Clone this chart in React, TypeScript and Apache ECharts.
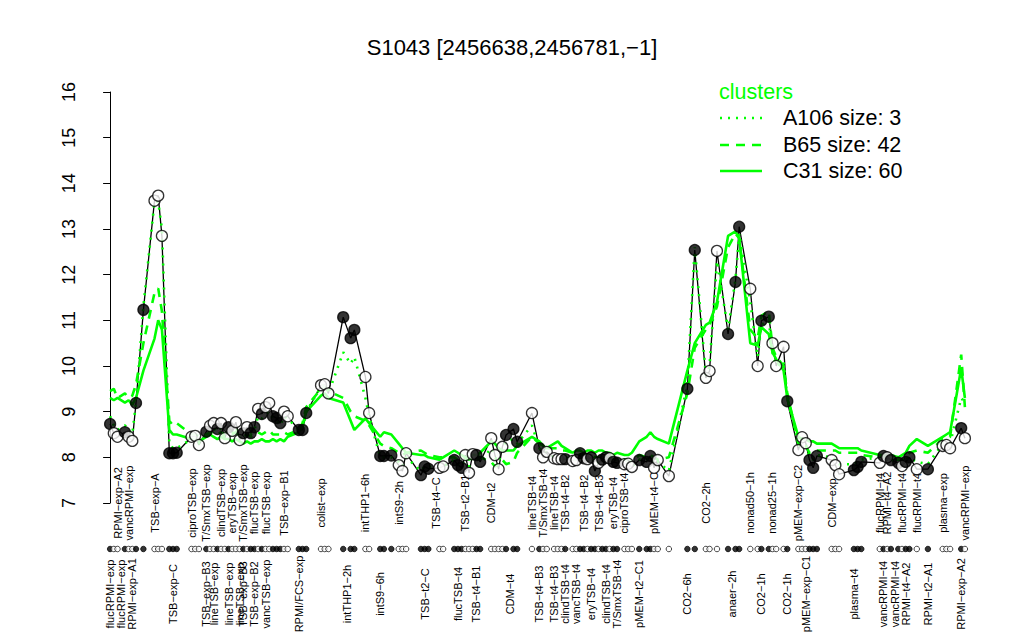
import React, { useEffect, useRef } from "react";
import * as echarts from "echarts";

const titleText = "S1043 [2456638,2456781,\u22121]";
const yTicks = [7, 8, 9, 10, 11, 12, 13, 14, 15, 16];

// sample order position (slot) along the x axis, with gaps between condition groups
const sampleSlot = [
  0, 1, 2, 4, 5, 6, 7, 9, 12, 13, 14, 16, 17, 18, 22, 23, 24,
  26, 27, 28, 29, 30, 31, 32, 33, 34, 35, 36, 37, 38, 39, 40, 41, 42, 43, 44, 45, 46, 47, 48,
  51, 52, 53, 57, 58, 59, 63, 65, 66, 69, 70, 73, 74, 76, 78, 79, 80, 84, 85, 86, 89, 90,
  93, 94, 95, 96, 97, 98, 99, 100, 103, 104, 105, 106, 107, 109, 110, 114,
  116, 117, 118, 120, 121, 122, 123, 125, 126, 127, 128, 129, 130, 131, 132, 133, 134, 135, 136, 137, 139, 140, 141,
  143, 145, 146, 147, 148, 151, 156, 158, 161, 162, 164, 167, 169, 170, 173, 175, 176, 178, 179, 180, 182, 183,
  186, 187, 188, 189, 190, 191, 195, 196, 197, 201, 202, 203, 208, 209, 210, 211, 213, 214, 215, 216, 218, 221,
  225, 226, 227, 230, 231,
];

const profile = [
  8.73, 8.53, 8.45, 8.55, 8.45, 8.36, 9.19, 11.23, 13.62, 13.73, 12.85, 8.09, 8.09, 8.1, 8.45, 8.47, 8.27,
  8.56, 8.69, 8.75, 8.62, 8.75, 8.42, 8.66, 8.58, 8.77, 8.38, 8.53, 8.66, 8.53, 8.66, 9.06, 8.95, 9.1, 9.19, 8.9, 8.86, 8.75, 9.0, 8.9,
  8.6, 8.6, 8.97, 9.58, 9.6, 9.4, 11.07, 10.61, 10.79, 9.76, 8.97, 8.03, 8.03, 8.04, 7.83, 7.7, 8.09, 7.61, 7.8, 7.75, 7.77, 7.8,
  7.94, 7.83, 7.77, 8.05, 7.66, 8.07, 8.05, 7.9, 8.42, 8.05, 7.74, 8.23, 8.49, 8.62, 8.34, 8.97,
  8.2, 8.0, 8.12, 7.98, 7.96, 7.96, 7.96, 7.92, 7.94, 8.09, 7.98, 7.96, 8.0, 7.7, 7.88, 7.95, 8.0, 7.98, 7.9, 7.88, 7.85, 7.86, 7.79,
  7.94, 7.9, 8.03, 7.77, 7.94, 7.59, 9.5, 12.54, 9.74, 9.89, 12.52, 10.7, 11.84, 13.05, 11.69, 10.0, 10.99, 11.08, 10.5, 10.0, 10.42, 9.23,
  8.16, 8.44, 8.31, 7.94, 7.77, 8.03, 7.94, 7.83, 7.63, 7.72, 7.79, 7.9, 7.88, 8.03, 8.0, 7.94, 7.88, 7.81, 7.9, 8.0, 7.74, 7.74,
  8.25, 8.27, 8.2, 8.64, 8.42,
];

// 1 = filled point, 0 = open point
const filled = [
  1, 0, 0, 1, 0, 0, 1, 1, 0, 0, 0, 1, 1, 1, 0, 0, 0,
  1, 0, 0, 1, 0, 0, 1, 0, 0, 0, 1, 0, 1, 1, 0, 1, 0, 0, 1, 1, 1, 0, 0,
  1, 1, 1, 0, 0, 0, 1, 1, 1, 0, 0, 1, 1, 1, 0, 0, 0, 1, 1, 1, 0, 0,
  1, 1, 1, 0, 0, 0, 1, 1, 0, 0, 0, 0, 1, 1, 1, 0,
  1, 0, 0, 0, 0, 0, 1, 0, 0, 1, 1, 0, 1, 1, 0, 1, 1, 0, 1, 1, 0, 0, 0,
  1, 1, 1, 0, 0, 0, 1, 1, 0, 0, 0, 1, 1, 1, 0, 0, 1, 1, 0, 0, 0, 1,
  0, 0, 0, 1, 1, 1, 0, 0, 0, 1, 1, 1, 0, 1, 0, 1, 1, 0, 1, 1, 0, 1,
  0, 0, 0, 1, 0,
];

// cluster mean profiles
const clusterA = [
  8.9, 8.7, 8.6, 8.7, 8.6, 8.5, 9.2, 11.3, 13.6, 13.6, 13.0, 8.3, 8.2, 8.2, 8.4, 8.4, 8.3,
  8.5, 8.6, 8.65, 8.55, 8.65, 8.45, 8.6, 8.55, 8.65, 8.45, 8.5, 8.6, 8.5, 8.6, 8.9, 8.85, 8.95, 9.0, 8.85, 8.8, 8.7, 8.9, 8.85,
  8.6, 8.6, 9.0, 9.55, 9.6, 9.4, 10.3, 10.05, 10.2, 9.3, 8.9, 8.0, 8.0, 8.0, 7.9, 7.8, 8.0, 7.7, 7.8, 7.8, 7.8, 7.8,
  7.95, 7.85, 7.8, 8.0, 7.8, 8.0, 8.0, 7.9, 8.2, 8.0, 7.9, 8.15, 8.35, 8.4, 8.3, 8.7,
  8.2, 8.1, 8.1, 8.0, 7.95, 7.95, 8.0, 7.95, 7.95, 8.05, 8.0, 7.95, 8.0, 7.85, 7.9, 7.95, 8.0, 7.95, 7.9, 7.9, 7.85, 7.85, 7.8,
  7.95, 7.95, 8.0, 7.85, 7.9, 7.7, 9.6, 12.6, 9.8, 10.0, 12.3, 10.8, 11.9, 12.9, 11.4, 10.2, 10.9, 11.0, 10.3, 10.0, 10.1, 9.3,
  8.3, 8.4, 8.3, 8.0, 7.95, 8.05, 8.0, 7.95, 7.85, 7.85, 7.9, 7.95, 8.0, 8.05, 8.0, 7.95, 7.9, 7.9, 7.95, 8.0, 7.9, 7.85,
  8.3, 8.3, 8.3, 9.3, 9.2,
];

const clusterB = [
  9.45, 9.5, 9.3, 9.4, 9.3, 9.35, 9.6, 10.5, 11.6, 11.7, 11.2, 8.8, 8.7, 8.75, 8.5, 8.5, 8.45,
  8.5, 8.55, 8.55, 8.5, 8.55, 8.45, 8.5, 8.5, 8.55, 8.45, 8.45, 8.5, 8.45, 8.5, 8.55, 8.5, 8.55, 8.6, 8.5, 8.5, 8.5, 8.55, 8.5,
  8.6, 8.75, 9.1, 9.5, 9.55, 9.45, 9.3, 9.0, 8.9, 8.8, 8.7, 8.3, 8.25, 8.2, 8.1, 8.05, 8.1, 8.15, 8.1, 8.05, 8.0, 8.0,
  8.0, 7.95, 7.95, 8.0, 7.95, 8.0, 8.05, 8.0, 7.9, 7.8, 7.85, 7.95, 7.85, 7.9, 8.1, 8.45,
  8.3, 8.25, 8.2, 8.2, 8.2, 8.15, 8.15, 8.1, 8.1, 8.05, 8.05, 8.05, 8.05, 8.0, 8.0, 8.05, 8.0, 8.0, 7.95, 7.95, 7.95, 7.9, 7.9,
  8.05, 8.0, 8.05, 8.0, 7.95, 8.0, 9.4, 10.4, 10.8, 10.9, 11.3, 12.6, 12.9, 12.8, 10.8, 10.6, 11.1, 11.2, 10.4, 10.2, 10.0, 9.4,
  8.3, 8.2, 8.25, 8.1, 8.1, 8.15, 8.15, 8.15, 8.1, 8.1, 8.1, 8.05, 8.0, 8.0, 7.95, 7.95, 7.95, 7.95, 8.0, 8.1, 8.15, 8.1,
  8.4, 8.4, 8.45, 10.25, 9.1,
];

const clusterC = [
  9.3, 9.25, 9.3, 9.2, 9.25, 9.15, 9.3, 9.9, 10.6, 11.0, 10.8, 8.6, 8.5, 8.5, 8.4, 8.4, 8.35,
  8.45, 8.5, 8.45, 8.4, 8.45, 8.4, 8.4, 8.35, 8.4, 8.35, 8.3, 8.35, 8.3, 8.35, 8.35, 8.4, 8.35, 8.35, 8.4, 8.35, 8.4, 8.35, 8.45,
  8.55, 8.7, 9.0, 9.35, 9.4, 9.3, 9.2, 8.8, 8.6, 8.85, 8.75, 8.45, 8.55, 8.5, 8.3, 8.2, 8.1, 8.05, 8.05, 8.0, 7.95, 8.0,
  8.15, 8.1, 8.05, 8.0, 8.0, 8.05, 8.05, 8.1, 8.35, 8.3, 8.2, 8.15, 8.15, 8.15, 8.25, 8.45,
  8.35, 8.25, 8.2, 8.3, 8.35, 8.25, 8.2, 8.1, 8.15, 8.15, 8.1, 8.15, 8.15, 8.1, 8.15, 8.15, 8.1, 8.1, 8.05, 8.1, 8.05, 8.05, 8.1,
  8.35, 8.45, 8.55, 8.45, 8.4, 8.3, 9.9, 10.5, 10.9, 10.95, 11.4, 12.85, 12.95, 12.8, 10.5, 10.45, 10.85, 10.7, 10.3, 10.15, 9.9, 9.3,
  8.45, 8.4, 8.4, 8.35, 8.35, 8.3, 8.3, 8.25, 8.2, 8.2, 8.2, 8.15, 8.05, 8.05, 8.05, 8.05, 8.0, 8.05, 8.1, 8.25, 8.4, 8.25,
  8.45, 8.5, 8.55, 9.95, 9.3,
];

const topLabels = [
  "RPMI\u2212exp\u2212A2", "vancRPMI\u2212exp", "TSB\u2212exp\u2212A", "ciproTSB\u2212exp", "T/SmxTSB\u2212exp",
  "clindTSB\u2212exp", "eryTSB\u2212exp", "T/SmxTSB\u2212exp", "flucTSB\u2212exp", "flucTSB\u2212exp", "TSB\u2212exp\u2212B1",
  "colist\u2212exp", "intTHP1\u22126h", "intS9\u22122h", "TSB\u2212t4\u2212C", "TSB\u2212t2\u2212B1", "CDM\u2212t2",
  "lineTSB\u2212t4", "T/SmxTSB\u2212t4", "lineTSB\u2212t4", "TSB\u2212t4\u2212B2", "TSB\u2212t4\u2212B2", "TSB\u2212t4\u2212B3",
  "eryTSB\u2212t4", "ciproTSB\u2212t4", "pMEM\u2212t4\u2212C", "CO2\u22122h", "nonad50\u22121h", "nonad25\u22121h",
  "pMEM\u2212exp\u2212C2", "CDM\u2212exp", "flucRPMI\u2212t4", "RPMI\u2212t4\u2212A2", "flucRPMI\u2212t4", "flucRPMI\u2212t4",
  "plasma\u2212exp", "vancRPMI\u2212exp",
];
const topLabelSlot = [
  2, 5, 12, 22, 26, 30, 33, 36, 39, 42, 47, 57, 69, 78, 88, 96, 103, 114, 117, 120, 123, 128, 132, 136, 139,
  147, 161, 173, 179, 186, 195, 208, 210, 214, 218, 225, 231,
];

const bottomLabels = [
  "flucRPMI\u2212exp", "flucRPMI\u2212exp", "RPMI\u2212exp\u2212A1", "TSB\u2212exp\u2212C", "TSB\u2212exp\u2212B3",
  "lineTSB\u2212exp", "lineTSB\u2212exp", "lineTSB\u2212exp", "TSB\u2212exp\u2212B3", "TSB\u2212exp\u2212B2", "vancTSB\u2212exp",
  "RPMI/FCS\u2212exp", "intTHP1\u22122h", "intS9\u22126h", "TSB\u2212t2\u2212C", "flucTSB\u2212t4", "TSB\u2212t4\u2212B1",
  "CDM\u2212t4", "TSB\u2212t4\u2212B3", "TSB\u2212t4\u2212B3", "clindTSB\u2212t4", "vancTSB\u2212t4", "eryTSB\u2212t4",
  "clindTSB\u2212t4", "T/SmxTSB\u2212t4", "pMEM\u2212t2\u2212C1", "CO2\u22126h", "anaer\u22122h", "CO2\u22121h", "CO2\u22121h",
  "pMEM\u2212exp\u2212C1", "plasma\u2212t4", "vancRPMI\u2212t4", "vancRPMI\u2212t4", "RPMI\u2212t4\u2212A2", "RPMI\u2212t2\u2212A1",
  "RPMI\u2212exp\u2212A2",
];
const bottomLabelSlot = [
  0, 3, 6, 17, 26, 28, 32, 35, 36, 39, 42, 51, 64, 73, 85, 94, 99, 108, 116, 120, 123, 126, 130, 134, 137,
  143, 156, 168, 176, 183, 188, 201, 209, 212, 215, 221, 230,
];

const legendTitle = "clusters";
const legendNames = ["A106 size: 3", "B65 size: 42", "C31 size: 60"];

export default function App() {
  const ref = useRef<HTMLDivElement>(null);

  useEffect(() => {
    document.body.style.margin = "0";
    const chart = echarts.init(ref.current as HTMLDivElement, null, { renderer: "svg" });
    const GREEN = "#00ff00";
    const FONT = '"Liberation Sans", Arial, Helvetica, sans-serif';
    const xMin = -3;
    const xMax = 234;
    const gridLeft = 99;
    const gridRight = 48;

    const pts = sampleSlot.map((s, i) => ({
      value: [s, profile[i]],
      itemStyle: {
        color: filled[i] ? "#000000" : "#ffffff",
        borderColor: "#000000",
        borderWidth: 1.3,
      },
    }));
    const strip = sampleSlot.map((s, i) => ({
      value: [s, 0.5],
      itemStyle: {
        color: filled[i] ? "#000000" : "#ffffff",
        borderColor: "#000000",
        borderWidth: 0.9,
      },
    }));
    const lineData = (arr: number[]) => sampleSlot.map((s, i) => [s, arr[i]]);

    chart.setOption({
      animation: false,
      backgroundColor: "#ffffff",
      grid: [
        { left: gridLeft, right: gridRight, top: 92, bottom: 137 },
        { left: gridLeft, right: gridRight, top: 544, height: 10 },
      ],
      xAxis: [
        { type: "value", min: xMin, max: xMax, show: false },
        { type: "value", gridIndex: 1, min: xMin, max: xMax, show: false },
      ],
      yAxis: [
        {
          type: "value",
          min: 7,
          max: 16,
          interval: 1,
          offset: 9,
          axisLine: { show: true, lineStyle: { color: "#000000", width: 1 } },
          axisTick: { show: true, length: 7, lineStyle: { color: "#000000", width: 1 } },
          axisLabel: { show: false },
          splitLine: { show: false },
        },
        { type: "value", gridIndex: 1, min: 0, max: 1, show: false },
      ],
      series: [
        {
          type: "line",
          data: lineData(profile),
          symbol: "none",
          lineStyle: { color: "#000000", width: 1.3 },
          z: 2,
        },
        {
          type: "line",
          data: lineData(clusterA),
          symbol: "none",
          lineStyle: { color: GREEN, width: 2.6, type: [2, 6] },
          z: 3,
        },
        {
          type: "line",
          data: lineData(clusterB),
          symbol: "none",
          lineStyle: { color: GREEN, width: 2.6, type: [9, 7] },
          z: 3,
        },
        {
          type: "line",
          data: lineData(clusterC),
          symbol: "none",
          lineStyle: { color: GREEN, width: 2.6 },
          z: 3,
        },
        {
          type: "scatter",
          data: pts,
          symbol: "circle",
          symbolSize: 11,
          z: 5,
        },
        {
          type: "scatter",
          xAxisIndex: 1,
          yAxisIndex: 1,
          data: strip,
          symbol: "circle",
          symbolSize: 5.5,
          z: 5,
        },
      ],
    });

    const graphics: any[] = [];
    graphics.push({
      type: "text",
      x: 512,
      y: 47,
      style: { text: titleText, fontSize: 22, fontFamily: FONT, fill: "#000", align: "center", verticalAlign: "middle" },
    });
    yTicks.forEach((t) => {
      const py = chart.convertToPixel({ yAxisIndex: 0 }, t) as number;
      graphics.push({
        type: "text",
        x: 69,
        y: py,
        rotation: Math.PI / 2,
        style: { text: String(t), fontSize: 18, fontFamily: FONT, fill: "#000", align: "center", verticalAlign: "middle" },
      });
    });
    topLabels.forEach((lab, i) => {
      const px = chart.convertToPixel({ xAxisIndex: 0 }, topLabelSlot[i]) as number;
      graphics.push({
        type: "text",
        x: px,
        y: 503,
        rotation: Math.PI / 2,
        style: { text: lab, fontSize: 11, fontFamily: FONT, fill: "#000", align: "center", verticalAlign: "middle" },
      });
    });
    bottomLabels.forEach((lab, i) => {
      const px = chart.convertToPixel({ xAxisIndex: 0 }, bottomLabelSlot[i]) as number;
      graphics.push({
        type: "text",
        x: px,
        y: 594,
        rotation: Math.PI / 2,
        style: { text: lab, fontSize: 11, fontFamily: FONT, fill: "#000", align: "center", verticalAlign: "middle" },
      });
    });
    // legend
    graphics.push({
      type: "text",
      x: 719,
      y: 92,
      style: { text: legendTitle, fontSize: 21.5, fontFamily: FONT, fill: GREEN, align: "left", verticalAlign: "middle" },
    });
    const dashes = [[2, 6], [9, 7], null];
    const ly = [118, 145, 171];
    legendNames.forEach((name, i) => {
      graphics.push({
        type: "line",
        shape: { x1: 720, y1: ly[i], x2: 762, y2: ly[i] },
        style: { stroke: GREEN, lineWidth: 2.6, lineDash: dashes[i] || undefined },
      });
      graphics.push({
        type: "text",
        x: 783,
        y: ly[i],
        style: { text: name, fontSize: 21.5, fontFamily: FONT, fill: "#000", align: "left", verticalAlign: "middle" },
      });
    });
    chart.setOption({ graphic: graphics });

    return () => chart.dispose();
  }, []);

  return <div ref={ref} style={{ width: 1024, height: 640 }} />;
}
